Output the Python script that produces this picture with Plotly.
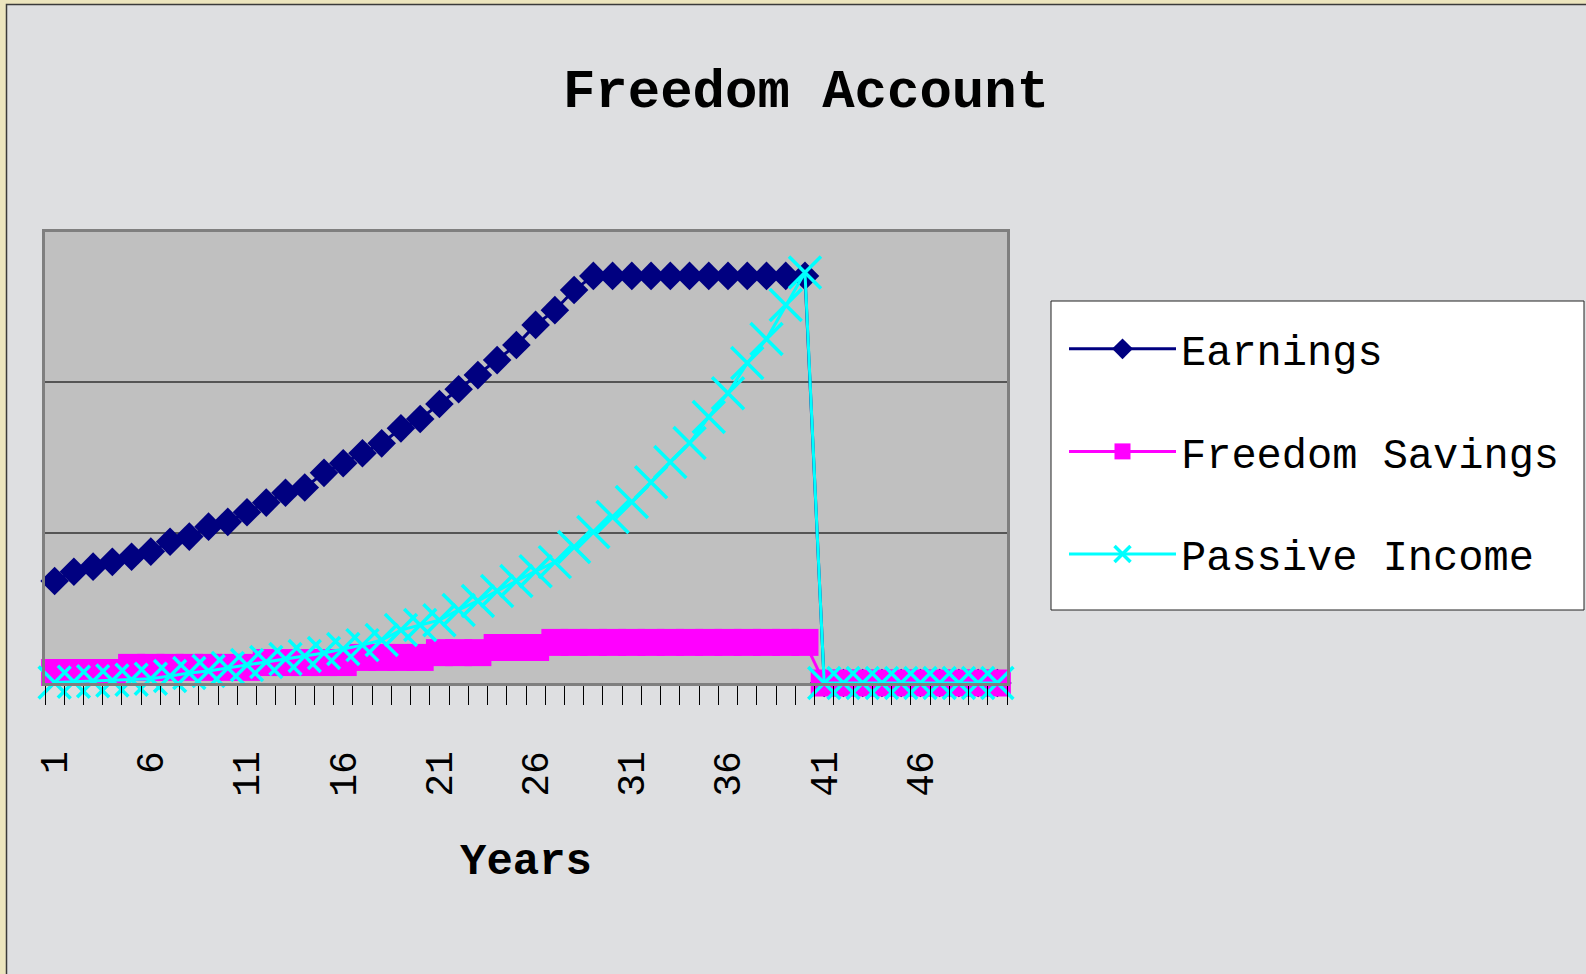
import plotly.graph_objects as go

# ---------------- data ----------------
years = list(range(1, 51))

earnings = [33.9, 37.0, 38.7, 40.3, 42.0, 43.7, 47.0, 48.7, 52.0, 53.6,
            56.8, 60.0, 63.3, 65.0, 69.9, 73.1, 76.4, 79.7, 84.7, 87.8,
            92.8, 97.7, 102.4, 107.4, 112.4, 119.1, 124.0, 130.7, 135.4, 135.4,
            135.4, 135.4, 135.4, 135.4, 135.4, 135.4, 135.4, 135.4, 135.4, 135.4,
            0, 0, 0, 0, 0, 0, 0, 0, 0, 0]

freedom_savings = [3.5, 3.5, 3.5, 3.5, 5.2, 5.2, 5.2, 5.2, 5.2, 5.2,
                   5.2, 6.8, 6.8, 6.8, 6.8, 6.8, 8.5, 8.5, 8.5, 8.5,
                   10.1, 10.1, 10.1, 11.8, 11.8, 11.8, 13.5, 13.5, 13.5, 13.5,
                   13.5, 13.5, 13.5, 13.5, 13.5, 13.5, 13.5, 13.5, 13.5, 13.5,
                   0, 0, 0, 0, 0, 0, 0, 0, 0, 0]

passive_income = [0.2, 0.4, 0.6, 0.8, 1.1, 1.4, 2.3, 3.3, 4.0, 5.0,
                  6.0, 7.0, 8.0, 9.0, 10.0, 11.3, 12.6, 14.3, 17.6, 19.3,
                  20.9, 24.3, 27.3, 30.6, 33.9, 37.2, 40.2, 45.2, 50.2, 55.2,
                  60.2, 66.8, 73.5, 79.8, 88.5, 96.4, 106.4, 114.4, 125.7, 136.5,
                  0, 0, 0, 0, 0, 0, 0, 0, 0, 0]

tick_years = [1, 6, 11, 16, 21, 26, 31, 36, 41, 46]
tick_labels = ["1", "6", "11", "16", "21", "26", "31", "36", "41", "46"]

series_names = ["Earnings", "Freedom Savings", "Passive Income"]

# ---------------- layout geometry ----------------
W, H = 1586, 974
L, R, T, B = 45, 1007, 232, 683      # plot area in pixels


def px2x(px):
    return (px - L) / (R - L)


def px2y(py):
    return (B - py) / (B - T)


MONO = "Liberation Mono"
NAVY, MAGENTA, CYAN = "#000080", "#FF00FF", "#00FFFF"

fig = go.Figure()
fig.add_trace(go.Scatter(
    x=years, y=earnings, name=series_names[0], mode="lines+markers",
    line=dict(color=NAVY, width=3),
    marker=dict(symbol="diamond", size=22, color=NAVY),
    cliponaxis=False, legendgroup="g1"))
fig.add_trace(go.Scatter(
    x=years, y=freedom_savings, name=series_names[1], mode="lines+markers",
    line=dict(color=MAGENTA, width=3),
    marker=dict(symbol="square", size=27, color=MAGENTA),
    cliponaxis=False, legendgroup="g2"))
fig.add_trace(go.Scatter(
    x=years, y=passive_income, name=series_names[2], mode="lines+markers",
    line=dict(color=CYAN, width=3),
    marker=dict(symbol="x-thin", size=32, color=CYAN,
                line=dict(color=CYAN, width=3.5)),
    cliponaxis=False, legendgroup="g3"))

shapes = [
    # marble-like page background with thin dark frame (beige paper shows at edge)
    dict(type="rect", xref="paper", yref="paper",
         x0=px2x(6.5), x1=px2x(1620), y0=px2y(1000), y1=px2y(4.5),
         fillcolor="#DEDFE1", line=dict(color="#3a3a3a", width=1.5), layer="below"),
    # plot area fill
    dict(type="rect", xref="paper", yref="paper", x0=0, x1=1, y0=0, y1=1,
         fillcolor="#C0C0C0", line=dict(width=0), layer="below"),
    # legend box
    dict(type="rect", xref="paper", yref="paper",
         x0=px2x(1051), x1=px2x(1584), y0=px2y(610), y1=px2y(301),
         fillcolor="white", line=dict(color="#222222", width=1), layer="below"),
]

fig.update_layout(
    width=W, height=H,
    margin=dict(l=L, r=W - R, t=T, b=H - B, pad=0),
    paper_bgcolor="#ECE5BE",
    plot_bgcolor="rgba(0,0,0,0)",
    shapes=shapes,
    title=dict(text="Freedom Account", xref="container", yref="container",
               x=806 / W, y=1 - 88 / H, xanchor="center", yanchor="middle",
               font=dict(family=MONO, size=54, color="black", weight="bold")),
    xaxis=dict(
        range=[0.5, 50.5], tickmode="array", tickvals=tick_years, ticktext=tick_labels,
        tickangle=-90, ticks="", showgrid=False, zeroline=False,
        showline=True, linecolor="#7f7f7f", linewidth=3, mirror=True,
        tickfont=dict(family=MONO, size=38, color="black"),
        ticklabelstandoff=50,
        minor=dict(tickmode="linear", tick0=0.5, dtick=1, ticks="outside",
                   ticklen=19, tickwidth=1, tickcolor="black", showgrid=False),
        title=dict(text="Years", standoff=48,
                   font=dict(family=MONO, size=44, color="black", weight="bold")),
    ),
    yaxis=dict(
        range=[0, 150], tickmode="array", tickvals=[0, 50, 100, 150],
        showticklabels=False, ticks="", showgrid=True, gridcolor="#555555",
        gridwidth=2, zeroline=False, showline=True, linecolor="#7f7f7f",
        linewidth=3, mirror=True,
    ),
    legend=dict(
        x=px2x(1064), y=px2y(315), xanchor="left", yanchor="top",
        bgcolor="rgba(0,0,0,0)", borderwidth=0, traceorder="grouped",
        font=dict(family=MONO, size=42, color="black"),
        itemwidth=107, tracegroupgap=45,
    ),
    showlegend=True,
)

fig.write_html("out.html", config={"displayModeBar": False},
               post_script="document.body.style.margin='0';document.body.style.overflow='hidden';")
